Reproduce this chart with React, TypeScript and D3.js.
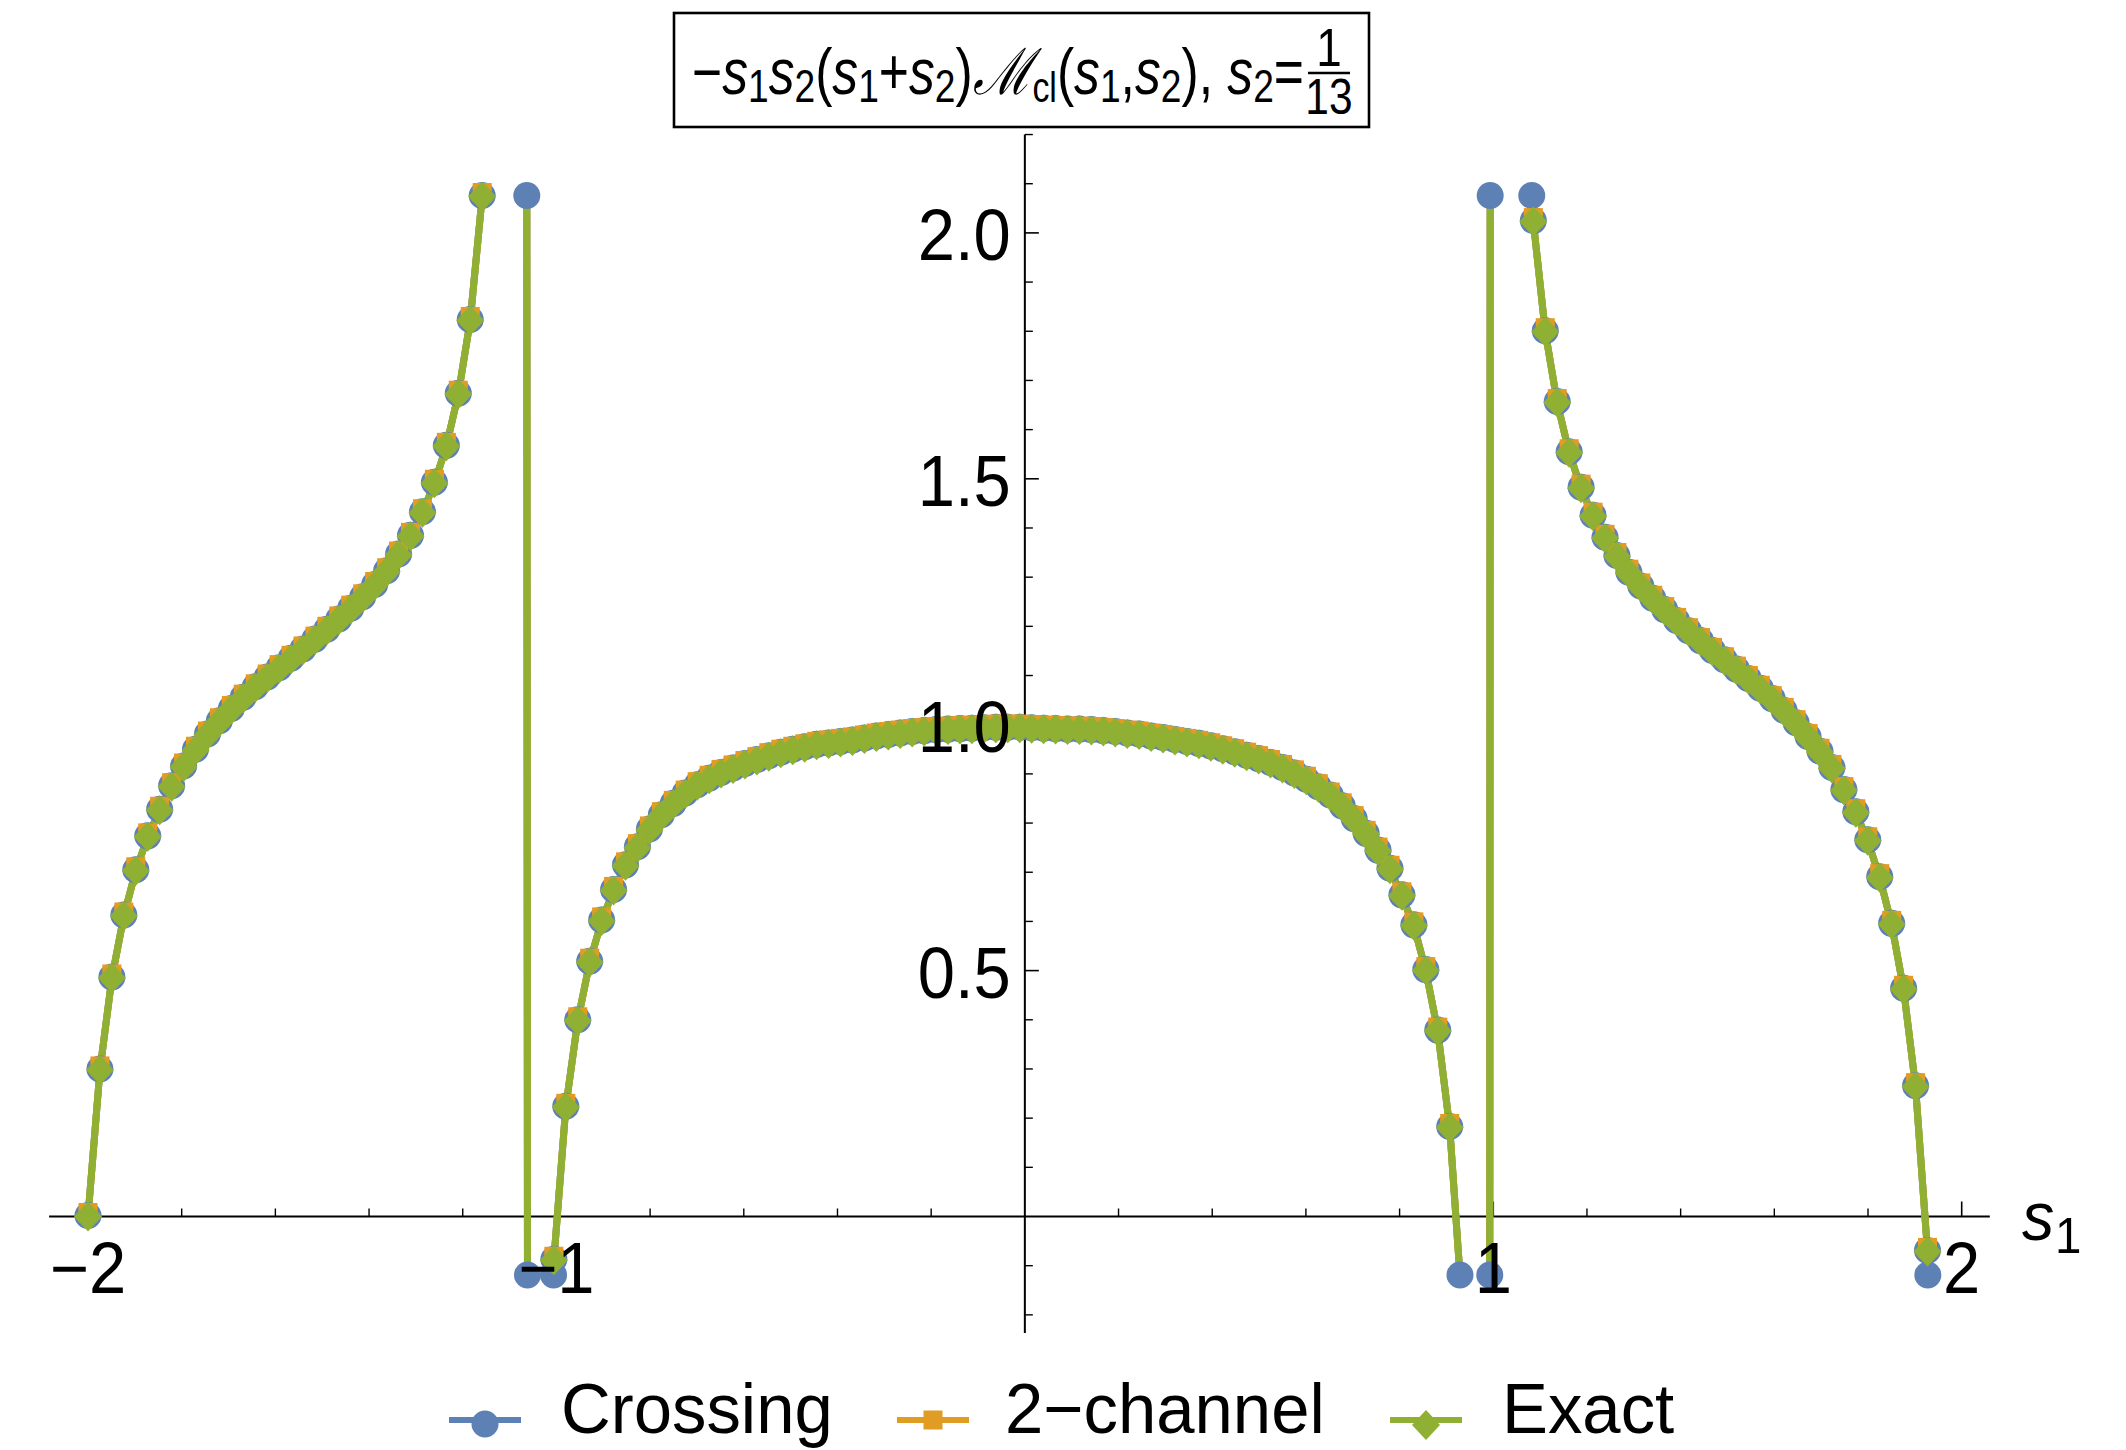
import React from 'react';
import * as d3 from 'd3';

const W = 2126;
const H = 1450;
const FONT = '"Liberation Sans", Arial, "DejaVu Sans", sans-serif';

// s1 sampling grid: s1 = S1_START + k * S1_STEP, k = 0 .. 155
const S1_START = -2;
const S1_STEP = 0.0255;

// Amplitude on the grid, split by branch (large values lie far off-scale near the poles)
const leftBranch = [
  0.0, 0.298, 0.485, 0.611, 0.703, 0.772, 0.826, 0.874, 0.914, 0.948,
  0.979, 1.006, 1.031, 1.054, 1.075, 1.095, 1.114, 1.133, 1.152, 1.172,
  1.192, 1.213, 1.235, 1.258, 1.283, 1.311, 1.345, 1.383, 1.431, 1.491,
  1.566, 1.672, 1.822, 2.074,
];
const leftPole = [2.9, 4.6, 30, -8, -1.4];
const centralBranch = [
  -0.089, 0.222, 0.398, 0.517, 0.601, 0.663, 0.713, 0.75, 0.786, 0.815,
  0.838, 0.859, 0.876, 0.889, 0.901, 0.91, 0.919, 0.927, 0.935, 0.942,
  0.948, 0.953, 0.958, 0.961, 0.964, 0.967, 0.971, 0.975, 0.978, 0.981,
  0.984, 0.986, 0.988, 0.989, 0.99, 0.991, 0.992, 0.993, 0.993, 0.993,
  0.992, 0.991, 0.99, 0.989, 0.989, 0.988, 0.986, 0.984, 0.981, 0.979,
  0.975, 0.972, 0.968, 0.964, 0.96, 0.955, 0.949, 0.943, 0.936, 0.929,
  0.921, 0.911, 0.9, 0.887, 0.872, 0.855, 0.833, 0.807, 0.777, 0.743,
  0.706, 0.652, 0.591, 0.5, 0.377, 0.181,
];
const rightPole = [-0.17, -0.9, -22, 40, 6.0, 2.41];
const rightBranch = [
  2.023, 1.799, 1.655, 1.553, 1.481, 1.424, 1.379, 1.342, 1.308, 1.28,
  1.255, 1.232, 1.21, 1.189, 1.169, 1.149, 1.13, 1.111, 1.092, 1.072,
  1.051, 1.027, 1.002, 0.974, 0.944, 0.911, 0.866, 0.821, 0.764, 0.689,
  0.594, 0.462, 0.264, -0.071,
];
const tail = [-2.0];

const exactValues = [...leftBranch, ...leftPole, ...centralBranch, ...rightPole, ...rightBranch, ...tail];
// The two approximations agree with the exact result to within the marker size.
const twoChannelValues = exactValues;
const crossingValues = exactValues;

const seriesNames = ['Crossing', '2\u2212channel', 'Exact'];
const seriesColors = ['#5E81B5', '#E19C24', '#8FB032'];

const xMajorTicks = [-2, -1, 1, 2];
const xMajorLabels = ['\u22122', '\u22121', '1', '2'];
const xMinorTicks = [-1.8, -1.6, -1.4, -1.2, -0.8, -0.6, -0.4, -0.2, 0.2, 0.4, 0.6, 0.8, 1.2, 1.4, 1.6, 1.8];
const yMajorTicks = [0.5, 1.0, 1.5, 2.0];
const yMajorLabels = ['0.5', '1.0', '1.5', '2.0'];
const yMinorTicks = [-0.2, -0.1, 0.1, 0.2, 0.3, 0.4, 0.6, 0.7, 0.8, 0.9, 1.1, 1.2, 1.3, 1.4, 1.6, 1.7, 1.8, 1.9, 2.1, 2.2];

const xAxisExtent = [-2.083, 2.06];
const yAxisExtent = [-0.237, 2.2];
const yClipRange = [-0.121, 2.074];

type Pt = [number, number];

const toPoints = (vals: number[]): Pt[] => vals.map((v, k) => [S1_START + k * S1_STEP, v]);

// Points where a polyline leaves or enters the visible value band
function bandCrossings(pts: Pt[], lo: number, hi: number): Pt[] {
  const out: Pt[] = [];
  for (let i = 0; i < pts.length - 1; i++) {
    const [x0, y0] = pts[i];
    const [x1, y1] = pts[i + 1];
    for (const b of [hi, lo]) {
      if ((y0 - b) * (y1 - b) < 0) {
        const t = (b - y0) / (y1 - y0);
        out.push([x0 + t * (x1 - x0), b]);
      }
    }
  }
  return out;
}

const inBand = (p: Pt) => p[1] >= yClipRange[0] - 1e-9 && p[1] <= yClipRange[1] + 1e-9;

const SText = ({ x, y, size, anchor = 'start', sx = 0.93, italic = false, children }: any) => (
  <text
    transform={`translate(${x},${y}) scale(${sx},1)`}
    fontSize={size}
    textAnchor={anchor}
    fontStyle={italic ? 'italic' : 'normal'}
    fontFamily={FONT}
    fill="#000"
  >
    {children}
  </text>
);

const Circle = ({ cx, cy, color }: any) => <circle cx={cx} cy={cy} r={13.5} fill={color} />;
const Square = ({ cx, cy, color }: any) => <rect x={cx - 9.5} y={cy - 9.5} width={19} height={19} fill={color} />;
const Diamond = ({ cx, cy, color }: any) => (
  <path d={`M${cx},${cy - 15}L${cx + 14},${cy}L${cx},${cy + 15}L${cx - 14},${cy}Z`} fill={color} />
);

export default function App() {
  const x = d3.scaleLinear().domain([-2, 2]).range([88, 1961.7]);
  const y = d3.scaleLinear().domain([0, 2]).range([1216.5, 232.9]);
  const x0 = x(0);
  const y0 = y(0);

  const crossingPts = toPoints(crossingValues);
  const twoChannelPts = toPoints(twoChannelValues);
  const exactPts = toPoints(exactValues);

  const line = d3
    .line<Pt>()
    .x((d) => x(d[0]))
    .y((d) => y(d[1]));

  const clipX0 = x(xAxisExtent[0]);
  const clipX1 = x(xAxisExtent[1]);
  const clipY0 = y(yClipRange[1]);
  const clipY1 = y(yClipRange[0]);

  const crossingEdgeMarks = bandCrossings(crossingPts, yClipRange[0], yClipRange[1]);

  const lineW = 7;

  // legend layout
  const legendY = 1420;
  const legendItems = [
    { lx: 449, tx: 561 },
    { lx: 897, tx: 1005 },
    { lx: 1390, tx: 1502 },
  ];

  const sub = { fontSize: 46 };

  return (
    <svg
      width={W}
      height={H}
      viewBox={`0 0 ${W} ${H}`}
      style={{ position: 'absolute', left: 0, top: 0, background: '#fff' }}
    >
      <rect x={0} y={0} width={W} height={H} fill="#fff" />
      <defs>
        <clipPath id="plot-band">
          <rect x={clipX0} y={clipY0} width={clipX1 - clipX0} height={clipY1 - clipY0} />
        </clipPath>
      </defs>

      {/* axes */}
      <g stroke="#000" fill="none">
        <line x1={x(xAxisExtent[0])} x2={x(xAxisExtent[1])} y1={y0} y2={y0} strokeWidth={2.2} />
        <line x1={x0} x2={x0} y1={y(yAxisExtent[1])} y2={y(yAxisExtent[0])} strokeWidth={2} />
        {xMajorTicks.map((t) => (
          <line key={'xM' + t} x1={x(t)} x2={x(t)} y1={y0} y2={y0 - 15} strokeWidth={1.6} />
        ))}
        {xMinorTicks.map((t) => (
          <line key={'xm' + t} x1={x(t)} x2={x(t)} y1={y0} y2={y0 - 8} strokeWidth={1.4} />
        ))}
        {yMajorTicks.map((t) => (
          <line key={'yM' + t} x1={x0} x2={x0 + 14} y1={y(t)} y2={y(t)} strokeWidth={1.6} />
        ))}
        {yMinorTicks.map((t) => (
          <line key={'ym' + t} x1={x0} x2={x0 + 8} y1={y(t)} y2={y(t)} strokeWidth={1.4} />
        ))}
      </g>

      {/* curves */}
      <g clipPath="url(#plot-band)" fill="none" strokeLinejoin="round" strokeWidth={lineW}>
        <path d={line(crossingPts) || ''} stroke={seriesColors[0]} />
        <path d={line(twoChannelPts) || ''} stroke={seriesColors[1]} />
        <path d={line(exactPts) || ''} stroke={seriesColors[2]} />
      </g>

      {/* markers */}
      <g>
        {crossingPts.filter(inBand).map((p, i) => (
          <Circle key={'c' + i} cx={x(p[0])} cy={y(p[1]) - 1} color={seriesColors[0]} />
        ))}
        {crossingEdgeMarks.map((p, i) => (
          <Circle key={'ce' + i} cx={x(p[0])} cy={y(p[1]) - 1} color={seriesColors[0]} />
        ))}
        {twoChannelPts.filter(inBand).map((p, i) => (
          <Square key={'s' + i} cx={x(p[0])} cy={y(p[1]) - 4} color={seriesColors[1]} />
        ))}
        {exactPts.filter(inBand).map((p, i) => (
          <Diamond key={'d' + i} cx={x(p[0])} cy={y(p[1])} color={seriesColors[2]} />
        ))}
      </g>

      {/* tick labels */}
      {xMajorTicks.map((t, i) => (
        <SText key={'xl' + t} x={x(t)} y={y0 + 76} size={72} anchor="middle">
          {xMajorLabels[i]}
        </SText>
      ))}
      {yMajorTicks.map((t, i) => (
        <SText key={'yl' + t} x={x0 - 14} y={y(t) + 27} size={72} anchor="end">
          {yMajorLabels[i]}
        </SText>
      ))}

      {/* axis label s1 */}
      <SText x={2022} y={1240} size={68} italic sx={0.95}>s</SText>
      <SText x={2055} y={1253} size={50} sx={0.95}>1</SText>

      {/* title */}
      <rect x={674} y={13} width={695} height={114} fill="#fff" stroke="#000" strokeWidth={2.6} />
      <text
        x={692}
        y={94}
        fontSize={64}
        fontFamily={FONT}
        textLength={612}
        lengthAdjust="spacingAndGlyphs"
      >
        <tspan>{'\u2212'}</tspan>
        <tspan fontStyle="italic">s</tspan>
        <tspan {...sub} dy={8}>1</tspan>
        <tspan fontStyle="italic" dy={-8}>s</tspan>
        <tspan {...sub} dy={8}>2</tspan>
        <tspan dy={-8}>(</tspan>
        <tspan fontStyle="italic">s</tspan>
        <tspan {...sub} dy={8}>1</tspan>
        <tspan dy={-8}>+</tspan>
        <tspan fontStyle="italic">s</tspan>
        <tspan {...sub} dy={8}>2</tspan>
        <tspan dy={-8}>)</tspan>
        <tspan fontFamily='"DejaVu Serif", serif' fontStyle="italic">{'\u2133'}</tspan>
        <tspan fontSize={42} dy={8}>cl</tspan>
        <tspan dy={-8}>(</tspan>
        <tspan fontStyle="italic">s</tspan>
        <tspan {...sub} dy={8}>1</tspan>
        <tspan dy={-8}>,</tspan>
        <tspan fontStyle="italic">s</tspan>
        <tspan {...sub} dy={8}>2</tspan>
        <tspan dy={-8}>),</tspan>
        <tspan> </tspan>
        <tspan fontStyle="italic">s</tspan>
        <tspan {...sub} dy={8}>2</tspan>
        <tspan dy={-8}>=</tspan>
      </text>
      <SText x={1329} y={66} size={54} anchor="middle" sx={0.85}>1</SText>
      <line x1={1308} x2={1350} y1={73} y2={73} stroke="#000" strokeWidth={2.5} />
      <SText x={1329} y={114} size={50} anchor="middle" sx={0.85}>13</SText>

      {/* legend */}
      {legendItems.map((it, i) => (
        <g key={'lg' + i}>
          <line x1={it.lx} x2={it.lx + 72} y1={legendY} y2={legendY} stroke={seriesColors[i]} strokeWidth={6} />
          {i === 0 && <Circle cx={it.lx + 36} cy={legendY + 4} color={seriesColors[0]} />}
          {i === 1 && <Square cx={it.lx + 36} cy={legendY} color={seriesColors[1]} />}
          {i === 2 && <Diamond cx={it.lx + 36} cy={legendY + 5} color={seriesColors[2]} />}
          <SText x={it.tx} y={1433} size={71} sx={0.97}>
            {seriesNames[i]}
          </SText>
        </g>
      ))}
    </svg>
  );
}
